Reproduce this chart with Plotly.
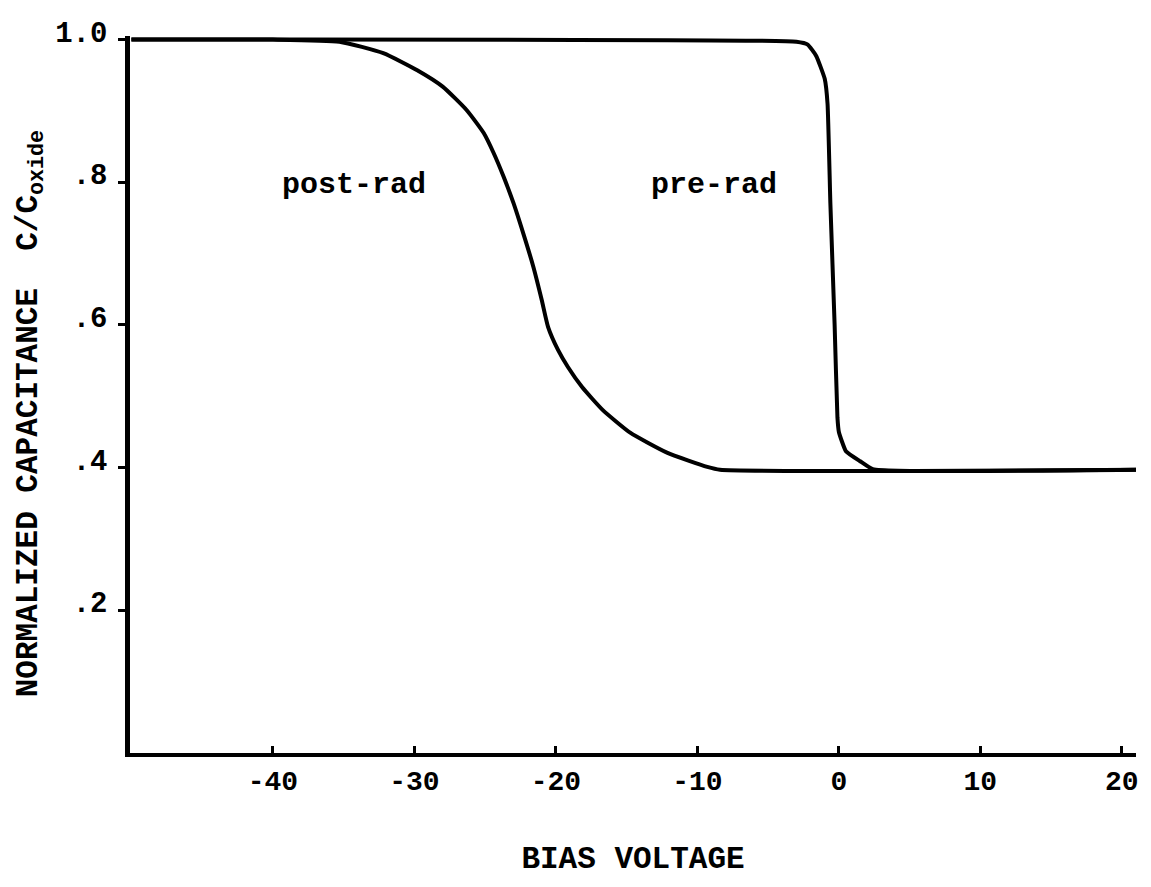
import plotly.graph_objects as go

# Data
post_rad_x = [-50, -40, -35.3, -32.2, -29.8, -28.0, -26.3, -25.1, -24.4, -23.7, -23.0, -22.3, -21.6,
              -21.0, -20.55, -19.85, -19.15, -18.15, -16.7, -14.75, -12.15, -9.3, -8.4, 21]
post_rad_y = [1.0, 1.0, 0.997, 0.981, 0.957, 0.934, 0.901, 0.869, 0.841, 0.808, 0.771, 0.728, 0.682,
              0.635, 0.597, 0.565, 0.541, 0.513, 0.481, 0.449, 0.421, 0.401, 0.397, 0.397]

pre_rad_x = [-50, -3.0, -2.2, -1.6, -1.0, -0.8, -0.6, -0.3, -0.1, 0.0, 0.5, 1.5, 2.4, 21]
pre_rad_y = [1.0, 0.997, 0.993, 0.977, 0.945, 0.91, 0.77, 0.6, 0.47, 0.45, 0.423, 0.409, 0.398, 0.397]

x_tick_vals = [-40, -30, -20, -10, 0, 10, 20]
x_tick_text = ["-40", "-30", "-20", "-10", "0", "10", "20"]
y_tick_vals = [0.2, 0.4, 0.6, 0.8, 1.0]
y_tick_text = [".2", ".4", ".6", ".8", "1.0"]

FONT = "Liberation Mono"

fig = go.Figure()
fig.add_trace(go.Scatter(x=post_rad_x, y=post_rad_y, mode="lines",
                         line=dict(color="black", width=4, shape="spline", smoothing=0.5),
                         name="post-rad", showlegend=False, hoverinfo="skip"))
fig.add_trace(go.Scatter(x=pre_rad_x, y=pre_rad_y, mode="lines",
                         line=dict(color="black", width=4, shape="spline", smoothing=0.4),
                         name="pre-rad", showlegend=False, hoverinfo="skip"))

fig.add_annotation(x=-34.3, y=0.796, text="post-rad", showarrow=False,
                   font=dict(family=FONT, size=30, color="black", weight="bold"))
fig.add_annotation(x=-8.8, y=0.796, text="pre-rad", showarrow=False,
                   font=dict(family=FONT, size=30, color="black", weight="bold"))
fig.add_annotation(x=-0.099, y=0.473, xref="paper", yref="paper", textangle=-90,
                   xanchor="center", yanchor="middle", borderpad=0,
                   text="NORMALIZED CAPACITANCE  C/C<sub>oxide</sub>", showarrow=False,
                   font=dict(family=FONT, size=31, color="black", weight="bold"))

fig.update_layout(
    width=1135, height=871,
    margin=dict(l=122, r=7, t=28, b=126, autoexpand=False),
    paper_bgcolor="white", plot_bgcolor="white",
    font=dict(family=FONT, size=28, color="black", weight="bold"),
    xaxis=dict(range=[-50.1, 21.0], tickvals=x_tick_vals, ticktext=x_tick_text,
               automargin=False,
               showgrid=False, zeroline=False, showline=True, linecolor="black", linewidth=3.5,
               ticks="inside", ticklen=7, tickwidth=2.5, tickcolor="black",
               title=dict(text="BIAS VOLTAGE", standoff=50,
                          font=dict(family=FONT, size=31, color="black", weight="bold")),
               tickfont=dict(family=FONT, size=28, color="black", weight="bold")),
    yaxis=dict(range=[0, 1.005], tickvals=y_tick_vals, ticktext=y_tick_text,
               automargin=False,
               showgrid=False, zeroline=False, showline=True, linecolor="black", linewidth=4.5,
               ticks="outside", ticklen=7, tickwidth=2.5, tickcolor="black",
               ticklabelstandoff=5, ticklabelshift=-8,
               tickfont=dict(family=FONT, size=29, color="black", weight="bold")),
)

fig.write_html("out.html")
